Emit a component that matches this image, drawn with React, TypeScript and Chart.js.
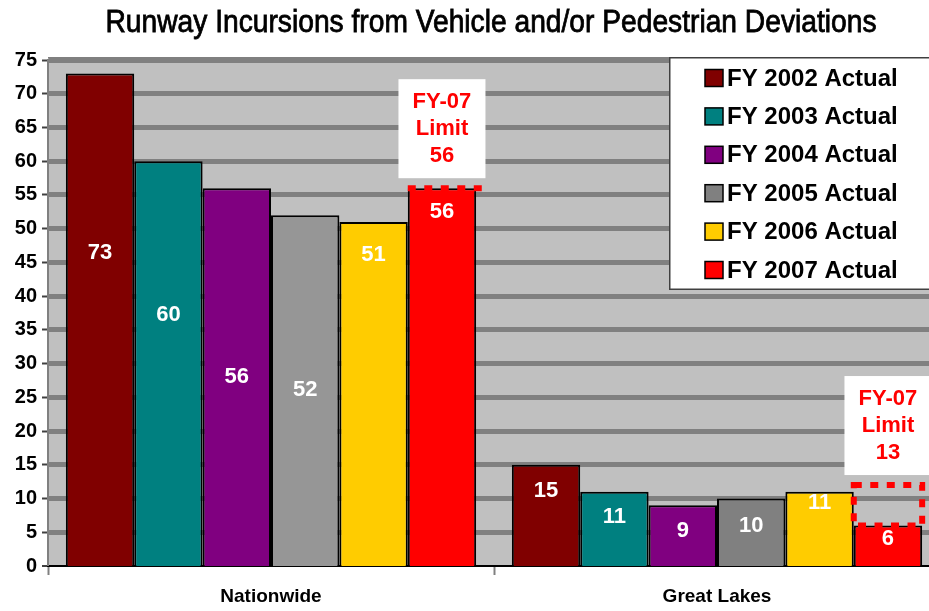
import React, { useEffect, useRef } from 'react';
import { Chart, registerables } from 'chart.js';

Chart.register(...registerables);

// ---------- data ----------
const categories = ['Nationwide', 'Great Lakes'];
const seriesLabels = [
  'FY 2002 Actual',
  'FY 2003 Actual',
  'FY 2004 Actual',
  'FY 2005 Actual',
  'FY 2006 Actual',
  'FY 2007 Actual',
];
const fy2002 = [73, 15];
const fy2003 = [60, 11];
const fy2004 = [56, 9];
const fy2005 = [52, 10];
const fy2006 = [51, 11];
const fy2007 = [56, 6];
const seriesValues = [fy2002, fy2003, fy2004, fy2005, fy2006, fy2007];

// value at which each data label sits (as placed in the original)
const labelAt2002 = [46.4, 11.1];
const labelAt2003 = [37.2, 7.3];
const labelAt2004 = [28.0, 5.2];
const labelAt2005 = [26.1, 5.9];
const labelAt2006 = [46.1, 9.3];
const labelAt2007 = [52.5, 4.0];
const labelAt = [labelAt2002, labelAt2003, labelAt2004, labelAt2005, labelAt2006, labelAt2007];

// FY-07 limit annotations
const limitText = ['56', '13'];
const limitLevels = [56, 12];

const yMin = 0;
const yMax = 75;
const yStep = 5;

const titleText = 'Runway Incursions from Vehicle and/or Pedestrian Deviations';

// ---------- styles ----------
const FONT = '"Liberation Sans", Arial, Helvetica, sans-serif';
const seriesColors: (string | string[])[] = [
  '#800000',
  '#008080',
  '#800080',
  ['#969696', '#808080'],
  '#FFCC00',
  '#FF0000',
];
const legendSwatch = ['#800000', '#008080', '#800080', '#808080', '#FFCC00', '#FF0000'];

const backgroundPlugin = {
  id: 'bgPlot',
  beforeDraw(chart: any) {
    const { ctx, chartArea, width, height } = chart;
    ctx.save();
    ctx.fillStyle = '#ffffff';
    ctx.fillRect(0, 0, width, height);
    ctx.fillStyle = '#C0C0C0';
    ctx.fillRect(chartArea.left, chartArea.top - 3, chartArea.right - chartArea.left, chartArea.bottom - chartArea.top + 3);
    ctx.fillStyle = '#808080';
    ctx.fillRect(chartArea.left, chartArea.top - 3, chartArea.right - chartArea.left, 1.5);

    // title, horizontally condensed like a narrow face
    ctx.font = `31px ${FONT}`;
    ctx.fillStyle = '#000000';
    ctx.strokeStyle = '#000000';
    ctx.lineWidth = 0.8;
    ctx.textBaseline = 'middle';
    ctx.textAlign = 'center';
    const measured = ctx.measureText(titleText).width;
    const target = 771;
    const cx = (chartArea.left + chartArea.right) / 2 - 3;
    ctx.translate(cx, 23);
    ctx.scale(target / measured, 1);
    ctx.fillText(titleText, 0, 0);
    ctx.strokeText(titleText, 0, 0);
    ctx.restore();
  },
};

const dataLabelPlugin = {
  id: 'dataLabels',
  afterDatasetsDraw(chart: any) {
    const { ctx } = chart;
    const yScale = chart.scales.y;
    ctx.save();
    ctx.fillStyle = '#ffffff';
    ctx.font = `bold 22px ${FONT}`;
    ctx.textAlign = 'center';
    ctx.textBaseline = 'middle';
    chart.data.datasets.forEach((ds: any, i: number) => {
      const meta = chart.getDatasetMeta(i);
      meta.data.forEach((bar: any, j: number) => {
        const y = yScale.getPixelForValue(labelAt[i][j]);
        ctx.fillText(String(ds.data[j]), bar.x, y);
      });
    });
    ctx.restore();
  },
};

const limitPlugin = {
  id: 'limits',
  afterDatasetsDraw(chart: any) {
    const { ctx } = chart;
    const yScale = chart.scales.y;
    const idx = chart.data.datasets.length - 1;
    const meta = chart.getDatasetMeta(idx);
    meta.data.forEach((bar: any, j: number) => {
      const left = bar.x - bar.width / 2;
      const right = bar.x + bar.width / 2;
      const yTop = yScale.getPixelForValue(limitLevels[j]);
      const yBot = bar.y;
      ctx.save();
      ctx.strokeStyle = '#FF0000';
      ctx.lineWidth = 6;
      ctx.setLineDash([8, 8.5]);
      ctx.beginPath();
      if (yBot - yTop > 3) {
        ctx.moveTo(left, yTop);
        ctx.lineTo(right, yTop);
        ctx.lineTo(right, yBot);
        ctx.lineTo(left, yBot);
        ctx.closePath();
      } else {
        ctx.moveTo(left, yTop);
        ctx.lineTo(right + 8, yTop);
      }
      ctx.stroke();
      ctx.restore();

      // white label box
      const bw = 87;
      const bh = 99;
      const bx = bar.x - bw / 2;
      const by = yTop - 10 - bh;
      ctx.save();
      ctx.fillStyle = '#ffffff';
      ctx.fillRect(bx, by, bw, bh);
      ctx.fillStyle = '#FF0000';
      ctx.font = `bold 22px ${FONT}`;
      ctx.textAlign = 'center';
      ctx.textBaseline = 'middle';
      const cy = by + bh / 2;
      ctx.fillText('FY-07', bar.x, cy - 27);
      ctx.fillText('Limit', bar.x, cy);
      ctx.fillText(limitText[j], bar.x, cy + 27);
      ctx.restore();
    });
  },
};

const legendPlugin = {
  id: 'boxLegend',
  afterDraw(chart: any) {
    const { ctx, chartArea } = chart;
    const x = 669;
    const y = chartArea.top - 3;
    const w = 300;
    const h = 233;
    ctx.save();
    ctx.fillStyle = '#ffffff';
    ctx.fillRect(x, y, w, h);
    ctx.strokeStyle = '#404040';
    ctx.lineWidth = 1.5;
    ctx.strokeRect(x + 0.75, y + 0.75, w, h - 1.5);
    ctx.font = `bold 24px ${FONT}`;
    ctx.textAlign = 'left';
    ctx.textBaseline = 'middle';
    chart.data.datasets.forEach((ds: any, i: number) => {
      const cy = y + 21 + i * 38.4;
      ctx.fillStyle = legendSwatch[i];
      ctx.fillRect(705, cy - 8.5, 18, 17);
      ctx.strokeStyle = '#000';
      ctx.lineWidth = 1.5;
      ctx.strokeRect(705, cy - 8.5, 18, 17);
      ctx.fillStyle = '#000';
      ctx.fillText(ds.label, 727, cy + 1);
    });
    ctx.restore();
  },
};

export default function App() {
  const canvasRef = useRef<HTMLCanvasElement | null>(null);

  useEffect(() => {
    if (!canvasRef.current) return;
    const chart = new Chart(canvasRef.current, {
      type: 'bar',
      data: {
        labels: categories,
        datasets: seriesValues.map((vals, i) => ({
          label: seriesLabels[i],
          data: vals,
          backgroundColor: seriesColors[i] as any,
          borderColor: '#000000',
          borderWidth: 2,
          categoryPercentage: 0.92,
          barPercentage: 1,
        })),
      },
      options: {
        responsive: false,
        maintainAspectRatio: false,
        devicePixelRatio: 1,
        animation: false,
        layout: { padding: { left: 0, right: 5, top: 60, bottom: 0 } },
        plugins: {
          legend: { display: false },
          tooltip: { enabled: false },
          title: { display: false },
        },
        scales: {
          x: {
            grid: {
              offset: true,
              drawOnChartArea: false,
              color: '#808080',
              tickColor: '#808080',
              tickWidth: 2,
              tickLength: 9,
            },
            border: { color: '#000000', width: 2 },
            ticks: {
              color: '#000000',
              font: { family: FONT, size: 19, weight: 'bold' },
              padding: 10,
            },
            afterFit: (s: any) => {
              s.height = 45;
            },
          },
          y: {
            min: yMin,
            max: yMax,
            ticks: {
              stepSize: yStep,
              color: '#000000',
              font: { family: FONT, size: 20, weight: 'bold' },
              padding: 5,
              autoSkip: false,
            },
            grid: {
              color: (c: any) => (c.tick && c.tick.value === 0 ? 'rgba(0,0,0,0)' : '#808080'),
              lineWidth: (c: any) => (c.tick && c.tick.value === 0 ? 0 : 5),
              tickColor: '#404040',
              tickWidth: 2,
              tickLength: 6,
            },
            border: { color: '#808080', width: 2 },
            afterFit: (s: any) => {
              s.width = 48;
            },
          },
        },
      },
      plugins: [backgroundPlugin, dataLabelPlugin, limitPlugin, legendPlugin],
    });
    return () => chart.destroy();
  }, []);

  return (
    <div
      style={{
        position: 'fixed',
        left: 0,
        top: 0,
        width: 929,
        height: 611,
        overflow: 'hidden',
        background: '#ffffff',
      }}
    >
      <canvas ref={canvasRef} width={945} height={611} style={{ width: 945, height: 611, display: 'block' }} />
    </div>
  );
}
